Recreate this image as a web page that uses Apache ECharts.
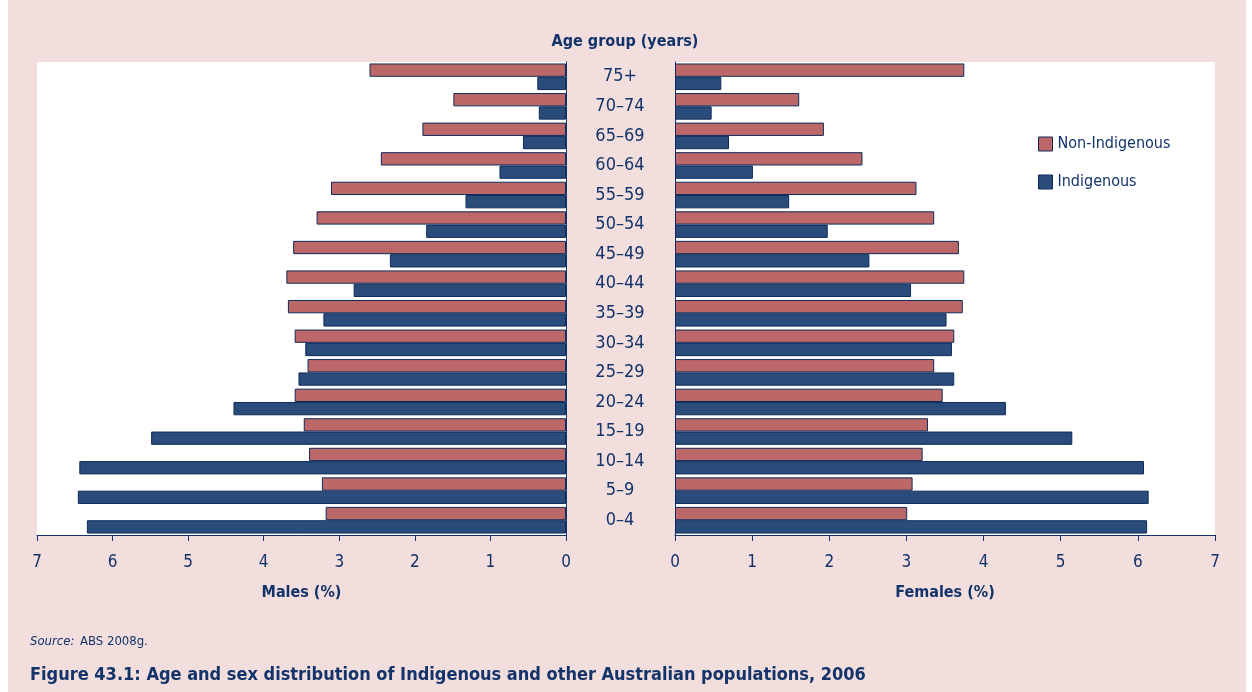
<!DOCTYPE html>
<html>
<head>
<meta charset="utf-8">
<script src="https://cdn.jsdelivr.net/npm/echarts@6/dist/echarts.min.js"></script>
<style>
  html, body { margin: 0; padding: 0; background: #fff; }
  #chart { position: absolute; left: 8px; top: 0; width: 1238px; height: 692px; }
</style>
</head>
<body>
<div id="chart"></div>
<script>
// Возрастные группы снизу вверх (категориальная ось Y идёт от низа)
const ageGroups = ['0–4', '5–9', '10–14', '15–19', '20–24', '25–29', '30–34', '35–39',
  '40–44', '45–49', '50–54', '55–59', '60–64', '65–69', '70–74', '75+'];

// Мужчины, %
const maleNonIndigenous = [3.18, 3.23, 3.40, 3.47, 3.59, 3.42, 3.59, 3.68,
  3.70, 3.61, 3.30, 3.11, 2.45, 1.90, 1.49, 2.60];
const maleIndigenous = [6.34, 6.46, 6.44, 5.49, 4.40, 3.54, 3.45, 3.21,
  2.81, 2.33, 1.85, 1.33, 0.88, 0.57, 0.36, 0.38];

// Женщины, %
const femaleNonIndigenous = [3.01, 3.08, 3.21, 3.28, 3.47, 3.36, 3.62, 3.73,
  3.75, 3.68, 3.36, 3.13, 2.43, 1.93, 1.61, 3.75];
const femaleIndigenous = [6.12, 6.14, 6.08, 5.15, 4.29, 3.62, 3.59, 3.52,
  3.06, 2.52, 1.98, 1.48, 1.01, 0.70, 0.475, 0.60];

const NAVY = '#13336b';
const PINK = '#bd6868';
const BLUE = '#2a4c7a';
const FONT = '"Liberation Sans Narrow", "DejaVu Sans Condensed", "Roboto", sans-serif';

const chart = echarts.init(document.getElementById('chart'));

// первая серия в группе рисуется сверху — Non-Indigenous идёт первой
function barSeries(name, data, color, idx) {
  return {
    name,
    type: 'bar',
    xAxisIndex: idx,
    yAxisIndex: idx,
    data,
    barGap: '0%',
    barCategoryGap: '10%',
    itemStyle: { color, borderColor: '#0e2a5a', borderWidth: 1 },
    emphasis: { disabled: true },
  };
}

function valueAxis(idx, inverse, name) {
  return {
    type: 'value',
    gridIndex: idx,
    min: 0,
    max: 7,
    interval: 1,
    inverse,
    name,
    nameLocation: 'middle',
    nameGap: 50,
    nameTextStyle: { color: NAVY, fontFamily: FONT, fontWeight: 'bold', fontSize: 16 },
    axisLine: { show: true, lineStyle: { color: NAVY, width: 1 } },
    axisTick: { show: true, inside: false, length: 6, lineStyle: { color: NAVY } },
    axisLabel: { color: NAVY, fontFamily: FONT, fontSize: 17, margin: 19 },
    splitLine: { show: false },
  };
}

chart.setOption({
  animation: false,
  backgroundColor: '#f2dedc',
  textStyle: { fontFamily: FONT },
  title: [
    {
      text: 'Age group (years)',
      left: 612, top: 29, textAlign: 'center',
      textStyle: { color: NAVY, fontFamily: FONT, fontWeight: 'bold', fontSize: 16 },
    },
    {
      text: '{i|Source:} {n|ABS 2008g.}',
      left: 17, top: 628,
      textStyle: {
        rich: {
          i: { color: NAVY, fontFamily: FONT, fontStyle: 'italic', fontWeight: 'normal', fontSize: 13 },
          n: { color: NAVY, fontFamily: FONT, fontWeight: 'normal', fontSize: 13 },
        },
      },
    },
    {
      text: 'Figure 43.1: Age and sex distribution of Indigenous and other Australian populations, 2006',
      left: 17, top: 661,
      textStyle: { color: NAVY, fontFamily: FONT, fontWeight: 'bold', fontSize: 18 },
    },
  ],
  legend: {
    orient: 'vertical',
    left: 1030, top: 136,
    padding: 0,
    icon: 'rect',
    itemWidth: 14, itemHeight: 14, itemGap: 22,
    data: ['Non-Indigenous', 'Indigenous'],
    textStyle: { color: NAVY, fontFamily: FONT, fontSize: 16 },
    itemStyle: { borderColor: '#0e2a5a', borderWidth: 1 },
  },
  grid: [
    { left: 29, right: 680, top: 62, bottom: 157, show: true, backgroundColor: '#fff', borderWidth: 0 },
    { left: 667, right: 31, top: 62, bottom: 157, show: true, backgroundColor: '#fff', borderWidth: 0 },
  ],
  xAxis: [
    valueAxis(0, true, 'Males (%)'),
    valueAxis(1, false, 'Females (%)'),
  ],
  yAxis: [
    {
      type: 'category', gridIndex: 0, data: ageGroups, position: 'right',
      axisLine: { show: true, lineStyle: { color: NAVY } },
      axisTick: { show: false }, axisLabel: { show: false },
    },
    {
      type: 'category', gridIndex: 1, data: ageGroups, position: 'left',
      axisLine: { show: true, lineStyle: { color: NAVY } },
      axisTick: { show: false },
      axisLabel: { color: NAVY, fontFamily: FONT, fontSize: 18, align: 'center', margin: 55 },
    },
  ],
  series: [
    barSeries('Non-Indigenous', maleNonIndigenous, PINK, 0),
    barSeries('Indigenous', maleIndigenous, BLUE, 0),
    barSeries('Non-Indigenous', femaleNonIndigenous, PINK, 1),
    barSeries('Indigenous', femaleIndigenous, BLUE, 1),
  ],
});
</script>
</body>
</html>
